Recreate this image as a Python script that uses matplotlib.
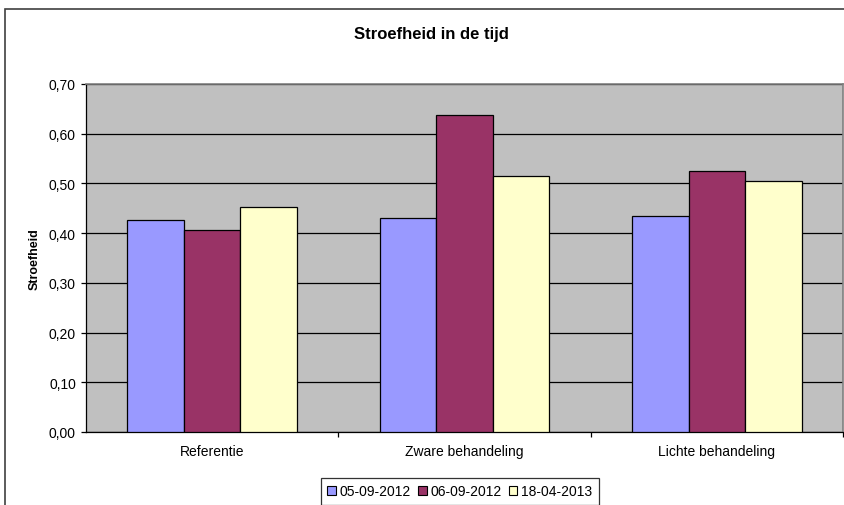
import matplotlib
matplotlib.use("Agg")
import matplotlib.pyplot as plt
from matplotlib.patches import Patch, Rectangle
import numpy as np

plt.rcParams['font.family'] = ['Liberation Sans', 'DejaVu Sans']

# data
categories = ['Referentie', 'Zware behandeling', 'Lichte behandeling']
series_names = ['05-09-2012', '06-09-2012', '18-04-2013']
values = {
    '05-09-2012': [0.427, 0.431, 0.435],
    '06-09-2012': [0.406, 0.637, 0.526],
    '18-04-2013': [0.453, 0.515, 0.505],
}
colors = ['#9999FF', '#993366', '#FFFFCC']
yticks = [0.0, 0.1, 0.2, 0.3, 0.4, 0.5, 0.6, 0.7]

W, H = 845, 506
fig = plt.figure(figsize=(W / 100, H / 100), dpi=100)

# outer chart frame (cut off at right and bottom)
fig.patches.append(Rectangle((5 / W, -0.05), 1.0, 1 - 10 / H + 0.05,
                             transform=fig.transFigure, fill=False,
                             edgecolor='#404040', linewidth=1.2))

ax = fig.add_axes([86 / W, 1 - 433 / H, (843 - 86) / W, (433 - 85) / H])
ax.set_facecolor('#C0C0C0')

x = np.arange(len(categories))
bw = 0.224
for i, (name, c) in enumerate(zip(series_names, colors)):
    ax.bar(x + (i - 1) * bw, values[name], width=bw, color=c,
           edgecolor='black', linewidth=0.9, zorder=3)

ax.set_xlim(-0.5, 2.5)
ax.set_ylim(0, 0.7)
ax.set_yticks(yticks)
ax.set_yticklabels([('%.2f' % v).replace('.', ',') for v in yticks], fontsize=10)
ax.yaxis.grid(True, color='black', linewidth=0.9, zorder=1)
ax.set_axisbelow(True)

ax.set_xticks(x)
ax.set_xticklabels(categories, fontsize=10)
ax.tick_params(axis='x', which='major', length=0, pad=9)
ax.set_xticks([0.5, 1.5, 2.5], minor=True)
ax.tick_params(axis='x', which='minor', length=3.6, width=0.9, direction='out')
ax.tick_params(axis='y', length=3.6, width=0.9, direction='out', pad=3.6)

for s in ['left', 'bottom']:
    ax.spines[s].set_color('black')
    ax.spines[s].set_linewidth(0.9)
for s in ['top', 'right']:
    ax.spines[s].set_color('#808080')
    ax.spines[s].set_linewidth(1.2)

ax.set_ylabel('Stroefheid', fontsize=9, fontweight='bold')
ax.yaxis.set_label_coords((41 - 86) / (843 - 86), 0.5)
fig.text(431 / W, 1 - 34 / H, 'Stroefheid in de tijd', ha='center', va='center',
         fontsize=12, fontweight='bold')

handles = [Patch(facecolor=c, edgecolor='black', linewidth=0.8) for c in colors]
leg = fig.legend(handles, series_names, loc='upper center',
                 bbox_to_anchor=(460 / W, 1 - 479 / H), ncol=3, fontsize=10,
                 frameon=True, fancybox=False, handlelength=0.6,
                 handleheight=0.6, handletextpad=0.3, columnspacing=0.5,
                 borderpad=0.45, borderaxespad=0)
leg.get_frame().set_edgecolor('black')
leg.get_frame().set_linewidth(0.9)

fig.savefig('out.png', dpi=100)
